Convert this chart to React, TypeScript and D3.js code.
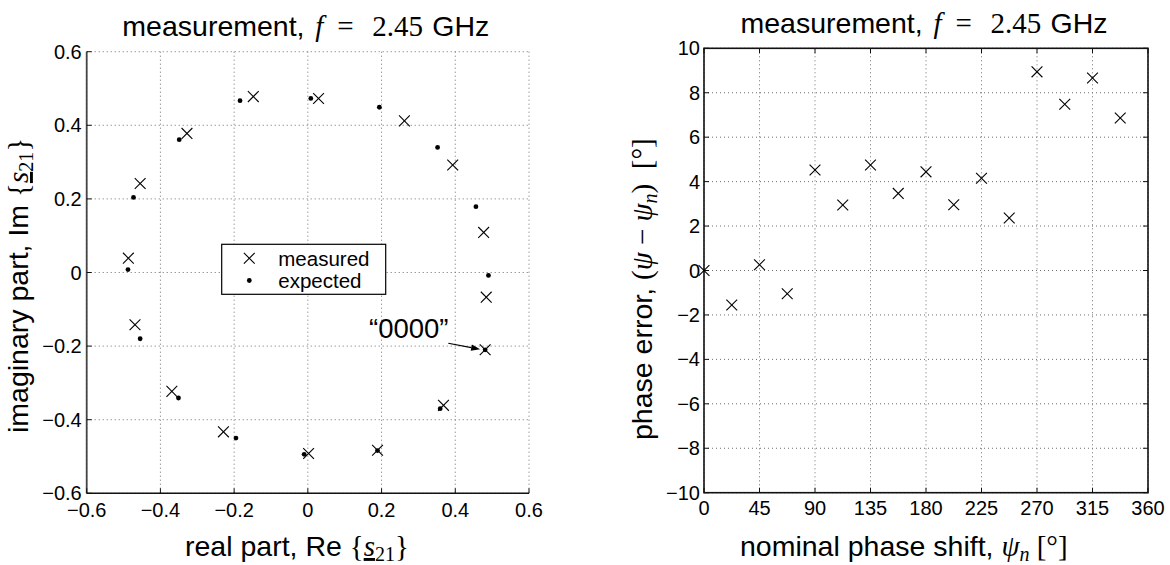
import React from "react";
import * as d3 from "d3";

// ---- data: left plot (complex plane) ----
const measuredRe = [0.481, 0.484, 0.477, 0.393, 0.262, 0.029, -0.148, -0.328, -0.455, -0.487, -0.469, -0.369, -0.229, 0.002, 0.189, 0.368];
const measuredIm = [-0.210, -0.067, 0.109, 0.292, 0.412, 0.473, 0.478, 0.378, 0.242, 0.039, -0.142, -0.323, -0.433, -0.492, -0.483, -0.361];
const expectedRe = [0.481, 0.490, 0.456, 0.352, 0.194, 0.008, -0.184, -0.349, -0.473, -0.488, -0.455, -0.351, -0.195, -0.010, 0.189, 0.359];
const expectedIm = [-0.210, -0.008, 0.179, 0.340, 0.449, 0.473, 0.467, 0.361, 0.204, 0.008, -0.180, -0.341, -0.450, -0.494, -0.484, -0.370];
const leftTicks = [-0.6, -0.4, -0.2, 0, 0.2, 0.4, 0.6];
const legendLabels = ["measured", "expected"];
const annotationLabel = "\u201C0000\u201D";

// ---- data: right plot (phase error) ----
const nominalPhase = [0, 22.5, 45, 67.5, 90, 112.5, 135, 157.5, 180, 202.5, 225, 247.5, 270, 292.5, 315, 337.5];
const phaseError = [0, -1.55, 0.26, -1.05, 4.52, 2.95, 4.75, 3.47, 4.44, 2.96, 4.15, 2.36, 8.94, 7.48, 8.66, 6.86];
const rightXTicks = [0, 45, 90, 135, 180, 225, 270, 315, 360];
const rightYTicks = [-10, -8, -6, -4, -2, 0, 2, 4, 6, 8, 10];

const SANS = "'Liberation Sans', Arial, Helvetica, sans-serif";
const SERIF = "'Liberation Serif', 'DejaVu Serif', serif";
const GRID = "#6f6f6f";
const LABEL_SIZE = 28.5;
const MATH_SIZE = 29;
const SUB_SIZE = 20;
const TICK_SIZE = 20;

const fmtNum = (v: number) => (v < 0 ? "\u2212" + String(Math.abs(v)) : String(v));

function Cross({ x, y, s = 5.4, w = 1.1 }: { x: number; y: number; s?: number; w?: number }) {
  return (
    <g stroke="#000" strokeWidth={w}>
      <line x1={x - s} y1={y - s} x2={x + s} y2={y + s} />
      <line x1={x - s} y1={y + s} x2={x + s} y2={y - s} />
    </g>
  );
}

function Title({ cx, y }: { cx: number; y: number }) {
  const s = cx - 185.5;
  return (
    <text x={s} y={y} fontFamily={SANS} fontSize={LABEL_SIZE}>
      <tspan x={s}>measurement,</tspan>
      <tspan x={s + 193} fontFamily={SERIF} fontStyle="italic" fontSize={MATH_SIZE}>f</tspan>
      <tspan x={s + 215} fontFamily={SERIF} fontSize={MATH_SIZE}>=</tspan>
      <tspan x={s + 250} fontFamily={SERIF} fontSize={MATH_SIZE}>2.45</tspan>
      <tspan x={s + 310}>GHz</tspan>
    </text>
  );
}

export default function App() {
  // Left axes
  const L = { x0: 86.7, x1: 529, y0: 51.7, y1: 493.3 };
  const lx = d3.scaleLinear().domain([-0.6, 0.6]).range([L.x0, L.x1]);
  const ly = d3.scaleLinear().domain([-0.6, 0.6]).range([L.y1, L.y0]);

  // Right axes
  const R = { x0: 704, x1: 1148, y0: 48.3, y1: 492.7 };
  const rx = d3.scaleLinear().domain([0, 360]).range([R.x0, R.x1]);
  const ry = d3.scaleLinear().domain([-10, 10]).range([R.y1, R.y0]);

  const tickLen = 5;

  const arrowStart = { x: 448.3, y: 343.3 };
  const arrowTip = { x: lx(measuredRe[0]) - 5, y: ly(measuredIm[0]) - 0.5 };
  const ang = Math.atan2(arrowTip.y - arrowStart.y, arrowTip.x - arrowStart.x);
  const ah = 9, aw = 3.2;
  const bx = arrowTip.x - ah * Math.cos(ang), by = arrowTip.y - ah * Math.sin(ang);
  const arrowHead = [
    [arrowTip.x, arrowTip.y],
    [bx + aw * Math.sin(ang), by - aw * Math.cos(ang)],
    [bx - aw * Math.sin(ang), by + aw * Math.cos(ang)],
  ].map((p) => p.join(",")).join(" ");

  return (
    <svg width={1170} height={565} style={{ position: "absolute", left: 0, top: 0, background: "#fff" }}>
      <rect width={1170} height={565} fill="#fff" />

      {/* ================= LEFT PLOT ================= */}
      <g>
        {leftTicks.map((t) => (
          <g key={"lg" + t}>
            <line x1={lx(t)} x2={lx(t)} y1={L.y0} y2={L.y1} stroke={GRID} strokeWidth={1} strokeDasharray="1 3" />
            <line x1={L.x0} x2={L.x1} y1={ly(t)} y2={ly(t)} stroke={GRID} strokeWidth={1} strokeDasharray="1 3" />
          </g>
        ))}
        <line x1={L.x0} x2={L.x0} y1={L.y0} y2={L.y1} stroke="#444" strokeWidth={1.8} />
        <line x1={L.x0} x2={L.x1} y1={L.y1} y2={L.y1} stroke="#111" strokeWidth={1.5} />
        {leftTicks.map((t) => (
          <g key={"lt" + t} stroke="#111" strokeWidth={1}>
            <line x1={lx(t)} x2={lx(t)} y1={L.y1} y2={L.y1 - tickLen} />
            <line x1={L.x0} x2={L.x0 + tickLen} y1={ly(t)} y2={ly(t)} />
          </g>
        ))}
        {leftTicks.map((t) => (
          <text key={"lxl" + t} x={lx(t)} y={517} textAnchor="middle" fontFamily={SANS} fontSize={TICK_SIZE}>
            {fmtNum(t)}
          </text>
        ))}
        {leftTicks.map((t) => (
          <text key={"lyl" + t} x={L.x0 - 5} y={ly(t) + 7} textAnchor="end" fontFamily={SANS} fontSize={TICK_SIZE}>
            {fmtNum(t)}
          </text>
        ))}

        {expectedRe.map((v, i) => (
          <circle key={"e" + i} cx={lx(v)} cy={ly(expectedIm[i])} r={2.4} fill="#000" />
        ))}
        {measuredRe.map((v, i) => (
          <Cross key={"m" + i} x={lx(v)} y={ly(measuredIm[i])} />
        ))}

        {/* legend */}
        <rect x={221.7} y={244.3} width={164} height={50} fill="#fff" stroke="#000" strokeWidth={1.2} />
        <Cross x={249.3} y={258.3} />
        <circle cx={249.3} cy={280.5} r={2.4} fill="#000" />
        <text x={278.3} y={265.8} fontFamily={SANS} fontSize={20.5}>{legendLabels[0]}</text>
        <text x={278.3} y={287.8} fontFamily={SANS} fontSize={20.5}>{legendLabels[1]}</text>

        {/* annotation */}
        <text x={369} y={338.3} fontFamily={SANS} fontSize={27.5}>{annotationLabel}</text>
        <line x1={arrowStart.x} y1={arrowStart.y} x2={bx} y2={by} stroke="#000" strokeWidth={1.1} />
        <polygon points={arrowHead} fill="#000" />

        <Title cx={(L.x0 + L.x1) / 2} y={36} />

        <text x={185} y={556} fontFamily={SANS} fontSize={LABEL_SIZE} style={{ whiteSpace: "pre" }}>
          {"real part, Re "}
          <tspan fontFamily={SERIF} fontSize={MATH_SIZE}>{"{"}</tspan>
          <tspan fontFamily={SERIF} fontSize={MATH_SIZE} fontStyle="italic" textDecoration="underline">s</tspan>
          <tspan fontFamily={SERIF} fontSize={SUB_SIZE} dy={5}>21</tspan>
          <tspan fontFamily={SERIF} fontSize={MATH_SIZE} dy={-5}>{"}"}</tspan>
        </text>
        <text
          transform={`translate(28,433) rotate(-90)`}
          fontFamily={SANS}
          fontSize={LABEL_SIZE}
          style={{ whiteSpace: "pre" }}
        >
          {"imaginary part, Im "}
          <tspan fontFamily={SERIF} fontSize={MATH_SIZE}>{"{"}</tspan>
          <tspan fontFamily={SERIF} fontSize={MATH_SIZE} fontStyle="italic" textDecoration="underline">s</tspan>
          <tspan fontFamily={SERIF} fontSize={SUB_SIZE} dy={5}>21</tspan>
          <tspan fontFamily={SERIF} fontSize={MATH_SIZE} dy={-5}>{"}"}</tspan>
        </text>
      </g>

      {/* ================= RIGHT PLOT ================= */}
      <g>
        {rightXTicks.map((t) => (
          <line key={"rgx" + t} x1={rx(t)} x2={rx(t)} y1={R.y0} y2={R.y1} stroke={GRID} strokeWidth={1} strokeDasharray="1 3" />
        ))}
        {rightYTicks.map((t) => (
          <line key={"rgy" + t} x1={R.x0} x2={R.x1} y1={ry(t)} y2={ry(t)} stroke={GRID} strokeWidth={1} strokeDasharray="1 3" />
        ))}
        <rect x={R.x0} y={R.y0} width={R.x1 - R.x0} height={R.y1 - R.y0} fill="none" stroke="#111" strokeWidth={1.6} />
        {rightXTicks.map((t) => (
          <g key={"rtx" + t} stroke="#111" strokeWidth={1}>
            <line x1={rx(t)} x2={rx(t)} y1={R.y1} y2={R.y1 - tickLen} />
            <line x1={rx(t)} x2={rx(t)} y1={R.y0} y2={R.y0 + tickLen} />
          </g>
        ))}
        {rightYTicks.map((t) => (
          <g key={"rty" + t} stroke="#111" strokeWidth={1}>
            <line x1={R.x0} x2={R.x0 + tickLen} y1={ry(t)} y2={ry(t)} />
            <line x1={R.x1} x2={R.x1 - tickLen} y1={ry(t)} y2={ry(t)} />
          </g>
        ))}
        {rightXTicks.map((t) => (
          <text key={"rxl" + t} x={rx(t)} y={515} textAnchor="middle" fontFamily={SANS} fontSize={TICK_SIZE}>
            {fmtNum(t)}
          </text>
        ))}
        {rightYTicks.map((t) => (
          <text key={"ryl" + t} x={R.x0 - 4} y={ry(t) + 7} textAnchor="end" fontFamily={SANS} fontSize={TICK_SIZE}>
            {fmtNum(t)}
          </text>
        ))}

        {nominalPhase.map((v, i) => (
          <Cross key={"p" + i} x={rx(v)} y={ry(phaseError[i])} />
        ))}

        <Title cx={(R.x0 + R.x1) / 2} y={32.5} />

        <text x={740} y={556} fontFamily={SANS} fontSize={LABEL_SIZE} style={{ whiteSpace: "pre" }}>
          {"nominal phase shift, "}
          <tspan fontFamily={SERIF} fontStyle="italic" fontSize={MATH_SIZE}>{"\u03C8"}</tspan>
          <tspan fontFamily={SERIF} fontStyle="italic" fontSize={SUB_SIZE} dy={5}>n</tspan>
          <tspan fontFamily={SERIF} fontSize={MATH_SIZE} dy={-5}>{" [\u00B0]"}</tspan>
        </text>
        <text
          transform={`translate(652,440) rotate(-90)`}
          fontFamily={SANS}
          fontSize={LABEL_SIZE}
          style={{ whiteSpace: "pre" }}
        >
          {"phase error, "}
          <tspan fontFamily={SERIF} fontSize={MATH_SIZE}>(</tspan>
          <tspan fontFamily={SERIF} fontSize={MATH_SIZE} fontStyle="italic">{"\u03C8"}</tspan>
          <tspan fontFamily={SERIF} fontSize={MATH_SIZE}>{" \u2212 "}</tspan>
          <tspan fontFamily={SERIF} fontSize={MATH_SIZE} fontStyle="italic">{"\u03C8"}</tspan>
          <tspan fontFamily={SERIF} fontStyle="italic" fontSize={SUB_SIZE} dy={5}>n</tspan>
          <tspan fontFamily={SERIF} fontSize={MATH_SIZE} dy={-5}>{")  [\u00B0]"}</tspan>
        </text>
      </g>
    </svg>
  );
}
